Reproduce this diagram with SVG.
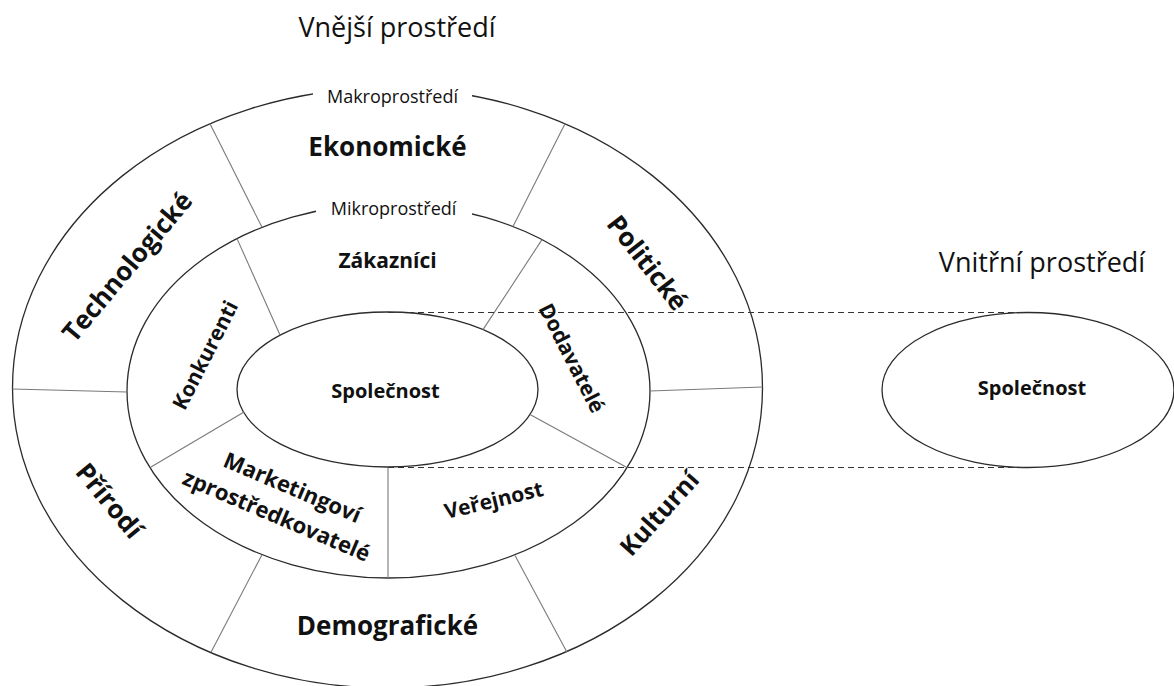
<svg xmlns="http://www.w3.org/2000/svg" width="1174" height="686" viewBox="0 0 1174 686">
  <style>
    .ring { fill: #ffffff; stroke: #2b2b2b; stroke-width: 1.3; }
    .div { stroke: #7a7a7a; stroke-width: 1.1; fill: none; }
    .dash { stroke: #333333; stroke-width: 1.2; stroke-dasharray: 6 4; fill: none; }
    .t { font-family: "Open Sans", "Liberation Sans", sans-serif; fill: #111111; text-anchor: middle; }
    .b { font-weight: 700; }
    .title { font-size: 27px; }
    .small { font-size: 18px; }
    .outer { font-size: 26px; }
    .inner { font-size: 21px; }
  </style>

  <!-- headings -->
  <text class="t title" x="397" y="37">Vnější prostředí</text>
  <text class="t title" x="1042" y="272">Vnitřní prostředí</text>

  <!-- macro environment ring -->
  <g id="makroprostredi">
    <ellipse class="ring" cx="387.5" cy="388" rx="375" ry="300"/>
  </g>

  <!-- micro environment ring -->
  <g id="mikroprostredi">
    <ellipse class="ring" cx="388.5" cy="391" rx="261.5" ry="187"/>
  </g>

  <!-- company core -->
  <g id="spolecnost">
    <ellipse class="ring" cx="387.5" cy="389.5" rx="150.5" ry="77.5"/>
    <text class="t b" font-size="20" x="385.5" y="398">Společnost</text>
  </g>

  <!-- company as internal environment -->
  <g id="spolecnost-vnitrni">
    <ellipse class="ring" cx="1028" cy="390" rx="146" ry="77.5"/>
    <text class="t b" font-size="20" x="1032" y="395">Společnost</text>
  </g>

  <!-- sector dividers and projection lines -->
  <g id="connectors">
    <!-- macro ring sectors -->
    <line class="div" x1="210" y1="123.7" x2="262" y2="227.3"/>
    <line class="div" x1="565" y1="123.7" x2="513" y2="226.6"/>
    <line class="div" x1="12.5" y1="389" x2="127" y2="392"/>
    <line class="div" x1="650" y1="391" x2="762.5" y2="387"/>
    <line class="div" x1="262" y1="554.7" x2="211" y2="652.3"/>
    <line class="div" x1="515" y1="555.4" x2="567" y2="652.3"/>
    <!-- micro ring sectors -->
    <line class="div" x1="237" y1="238.6" x2="280" y2="335"/>
    <line class="div" x1="542" y1="239.6" x2="483" y2="329.6"/>
    <line class="div" x1="244" y1="412" x2="151" y2="467"/>
    <line class="div" x1="530" y1="414.5" x2="626" y2="467"/>
    <line class="div" x1="388" y1="467" x2="388" y2="578"/>
    <!-- projection of the company -->
    <line class="dash" x1="388" y1="312.5" x2="1028" y2="312.5"/>
    <line class="dash" x1="388" y1="467.5" x2="1028" y2="467.5"/>
  </g>

  <!-- ring captions on white backing -->
  <g id="popisky-prostredi">
    <rect x="313" y="86" width="159" height="22" fill="#ffffff"/>
    <text class="t small" x="392.5" y="103">Makroprostředí</text>
    <rect x="316" y="200" width="156" height="24" fill="#ffffff"/>
    <text class="t small" x="393.5" y="215">Mikroprostředí</text>
  </g>

  <!-- macro factors -->
  <g id="ekonomicke"><text class="t b outer" x="387.5" y="156">Ekonomické</text></g>
  <g id="technologicke"><text class="t b outer" transform="translate(128 267.5) rotate(-50)" y="8">Technologické</text></g>
  <g id="politicke"><text class="t b outer" transform="translate(646.5 263.5) rotate(52)" y="8">Politické</text></g>
  <g id="prirodi"><text class="t b outer" transform="translate(108.5 501.5) rotate(50.5)" y="8">Přírodí</text></g>
  <g id="kulturni"><text class="t b" font-size="25" transform="translate(660 514) rotate(-48)" y="8">Kulturní</text></g>
  <g id="demograficke"><text class="t b outer" x="387.5" y="635">Demografické</text></g>

  <!-- micro factors -->
  <g id="zakaznici"><text class="t b inner" x="387.5" y="268">Zákazníci</text></g>
  <g id="konkurenti"><text class="t b inner" transform="translate(206 355.5) rotate(-63)" y="6.5">Konkurenti</text></g>
  <g id="dodavatele"><text class="t b inner" transform="translate(571 358.5) rotate(63)" y="6.5">Dodavatelé</text></g>
  <g id="verejnost"><text class="t b inner" transform="translate(494 501) rotate(-13.5)" y="6.5">Veřejnost</text></g>
  <g id="zprostredkovatele" transform="translate(284 502.6) rotate(23)">
    <text class="t b" font-size="22" x="1.8" y="-9.4">Marketingoví</text>
    <text class="t b" font-size="22" x="-1.8" y="22.6">zprostředkovatelé</text>
  </g>
</svg>
